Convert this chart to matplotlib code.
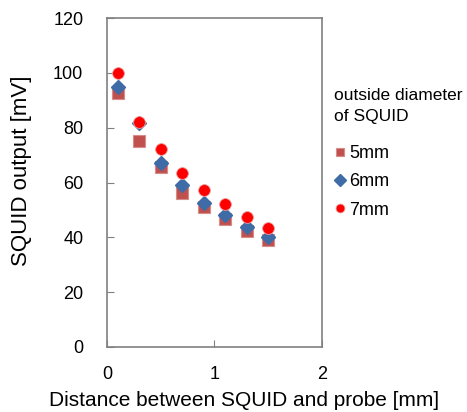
import matplotlib
matplotlib.use("Agg")
import matplotlib.pyplot as plt

plt.rcParams['font.family'] = ['Liberation Sans', 'DejaVu Sans']

# Data
distance = [0.1, 0.3, 0.5, 0.7, 0.9, 1.1, 1.3, 1.5]
out_5mm = [92.8, 75.1, 65.5, 56.3, 51.0, 46.6, 42.4, 39.0]
out_6mm = [94.7, 81.9, 67.2, 59.1, 52.4, 48.3, 43.9, 40.2]
out_7mm = [100.0, 82.2, 72.1, 63.6, 57.3, 52.0, 47.3, 43.3]
labels = ["5mm", "6mm", "7mm"]

fig = plt.figure(figsize=(4.67, 4.12), dpi=100)
ax = fig.add_axes([0.229, 0.158, 0.4605, 0.798])

ax.plot(distance, out_5mm, ls="none", marker="s", ms=8, color="#C0504D",
        mec="#D88C8A", mew=0.8, label=labels[0])
ax.plot(distance, out_6mm, ls="none", marker="D", ms=7.5, color="#3F6CA6",
        mec="#3F6CA6", label=labels[1])
ax.plot(distance, out_7mm, ls="none", marker="o", ms=8.5, color="#FF0000",
        mec="#E8A0A0", mew=0.6, label=labels[2])

ax.set_xlim(0, 2)
ax.set_ylim(0, 120)
ax.set_xticks([0, 1, 2])
ax.set_yticks(range(0, 121, 20))
ax.tick_params(direction="in", length=5, color="#808080", labelsize=13)
ax.tick_params(axis="x", pad=14)
ax.tick_params(axis="y", pad=17)
for s in ax.spines.values():
    s.set_color("#808080")
    s.set_linewidth(1.2)

# axis titles
fig.text(244 / 467, 1 - 400 / 412, "Distance between SQUID and probe [mm]",
         fontsize=15, ha="center", va="center")
fig.text(22 / 467, 1 - 171 / 412, "SQUID output [mV]", fontsize=16,
         rotation=90, ha="center", va="center")

# legend title and entries
fig.text(334 / 467, 1 - 106 / 412, "outside diameter\nof SQUID",
         fontsize=12.5, ha="left", va="center", linespacing=1.45)
leg = fig.legend(loc="upper left", bbox_to_anchor=(333 / 467, 1 - 145 / 412),
                 frameon=False, fontsize=13, handletextpad=0.12,
                 handlelength=0.8, labelspacing=0.63, markerscale=0.75,
                 borderpad=0, borderaxespad=0)

fig.savefig("out.png", dpi=100)
